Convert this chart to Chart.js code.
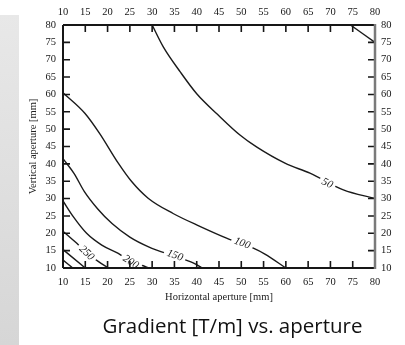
<!DOCTYPE html>
<html>
<head>
<meta charset="utf-8">
<script src="https://cdn.jsdelivr.net/npm/chart.js@4"></script>
<style>
  html, body { margin: 0; padding: 0; background: #fff; width: 405px; height: 345px; overflow: hidden; }
  #side { position: absolute; left: 0; top: 15px; width: 19px; height: 330px; background: linear-gradient(#e8e8e8, #d6d6d6); }
  #wrap { position: absolute; left: 0; top: 0; width: 405px; height: 345px; }
  #caption { position: absolute; left: 60px; width: 345px; top: 311px; line-height: 28px; text-align: center;
             font-family: "Open Sans", "Noto Sans", sans-serif; font-size: 20.5px; color: #111; white-space: nowrap; }
</style>
</head>
<body>
<div id="side"></div>
<div id="wrap"><canvas id="chart" width="405" height="345"></canvas></div>
<div id="caption">Gradient [T/m] vs. aperture</div>
<script>
(function () {
  "use strict";

  // -------------------------
  // Data
  // -------------------------
  const xTickVals = [10, 15, 20, 25, 30, 35, 40, 45, 50, 55, 60, 65, 70, 75, 80];
  const yTickVals = [10, 15, 20, 25, 30, 35, 40, 45, 50, 55, 60, 65, 70, 75, 80];

  // contour lines, horizontal aperture (x) vs vertical aperture (y), mm
  const c50X  = [30, 32.5, 36.3, 40, 44.7, 49.7, 53.5, 59.8, 65.4, 72.9, 80];
  const c50Y  = [80, 73.7, 66.5, 60.2, 54.2, 48.3, 44.8, 40.2, 37.3, 32.5, 30];
  const c100X = [10, 14.9, 18.2, 22.4, 25.4, 29.1, 34.7, 40.7, 46.7, 52.7, 55.3, 60];
  const c100Y = [60.5, 54.6, 48.8, 40.2, 34.9, 30.1, 25.7, 22.0, 18.6, 15.7, 14.0, 10];
  const c150X = [10, 12.5, 14.8, 17.8, 21, 25, 29.2, 35, 39.2, 41.2];
  const c150Y = [41.5, 37.2, 32, 27, 22.8, 18.9, 16.1, 13.4, 11.5, 10];
  const c200X = [10, 12.3, 15.3, 18.7, 22.4, 25.2, 27.7, 29.3];
  const c200Y = [29.3, 24.8, 20, 16.6, 14.2, 11.9, 10.8, 10];
  const c250X = [10, 13.1, 15.3, 17.9, 20.2];
  const c250Y = [20.6, 17.1, 14.4, 11.9, 10];
  const c300X = [10, 15];
  const c300Y = [15.3, 10];
  const c350X = [10, 12.2];
  const c350Y = [12.3, 10];
  const cCornerX = [74.5, 80];
  const cCornerY = [80, 75];

  // in-line contour labels
  const labelText  = ["50", "100", "150", "200", "250"];
  const labelX     = [69.3, 50.2, 35.1, 25.2, 15.3];
  const labelY     = [34.4, 17.1, 13.6, 11.7, 14.3];
  const labelCurve = [0, 1, 2, 3, 4];

  const curvesX = [c50X, c100X, c150X, c200X, c250X, c300X, c350X, cCornerX];
  const curvesY = [c50Y, c100Y, c150Y, c200Y, c250Y, c300Y, c350Y, cCornerY];

  // -------------------------
  // Helpers
  // -------------------------
  const SERIF = '"Liberation Serif", "Times New Roman", serif';
  const INK = "#161616";

  function toPoints(xs, ys) {
    return xs.map((x, i) => ({ x: x, y: ys[i] }));
  }

  function makeCurve(xs, ys) {
    return {
      data: toPoints(xs, ys),
      showLine: true,
      borderColor: "#1a1a1a",
      borderWidth: 1.4,
      pointRadius: 0,
      cubicInterpolationMode: "monotone",
      fill: false,
    };
  }

  function setTicks(vals) {
    return function (scale) {
      scale.ticks = vals.map((v) => ({ value: v }));
    };
  }

  function axis(pos, vals, size, pad, title) {
    const horiz = pos === "top" || pos === "bottom";
    return {
      type: "linear",
      position: pos,
      min: 10,
      max: 80,
      afterBuildTicks: setTicks(vals),
      afterFit: function (s) {
        if (horiz) s.height = size; else s.width = size;
      },
      grid: { display: false, drawTicks: false },
      border: { display: false },
      ticks: {
        padding: pad,
        color: INK,
        autoSkip: false,
        maxRotation: 0,
        font: { family: SERIF, size: 10.5 },
      },
      title: title
        ? { display: true, text: title.text, color: "#222", padding: title.padding, font: { family: SERIF, size: 10.5 } }
        : { display: false },
    };
  }

  // frame + inward tick marks
  const frameTicks = {
    id: "frameTicks",
    afterDraw(chart) {
      const { ctx, chartArea: a, scales } = chart;
      const len = 7;
      ctx.save();
      ctx.strokeStyle = INK;
      ctx.lineWidth = 1.6;
      ctx.beginPath();
      scales.x.ticks.forEach((t) => {
        const px = scales.x.getPixelForValue(t.value);
        ctx.moveTo(px, a.bottom); ctx.lineTo(px, a.bottom - len);
      });
      scales.x2.ticks.forEach((t) => {
        const px = scales.x2.getPixelForValue(t.value);
        ctx.moveTo(px, a.top); ctx.lineTo(px, a.top + len);
      });
      scales.y.ticks.forEach((t) => {
        const py = scales.y.getPixelForValue(t.value);
        ctx.moveTo(a.left, py); ctx.lineTo(a.left + len, py);
      });
      scales.y2.ticks.forEach((t) => {
        const py = scales.y2.getPixelForValue(t.value);
        ctx.moveTo(a.right, py); ctx.lineTo(a.right - len, py);
      });
      ctx.stroke();

      // frame
      ctx.lineWidth = 2;
      ctx.strokeStyle = INK;
      ctx.beginPath();
      ctx.moveTo(a.left, a.top); ctx.lineTo(a.right, a.top);
      ctx.moveTo(a.left, a.bottom); ctx.lineTo(a.right, a.bottom);
      ctx.moveTo(a.left, a.top); ctx.lineTo(a.left, a.bottom);
      ctx.stroke();
      ctx.lineWidth = 2.5;
      ctx.strokeStyle = "#7a7a7a";
      ctx.beginPath();
      ctx.moveTo(a.right, a.top - 1); ctx.lineTo(a.right, a.bottom + 1);
      ctx.stroke();
      ctx.restore();
    },
  };

  // italic labels set into the contour lines
  const contourLabels = {
    id: "contourLabels",
    afterDatasetsDraw(chart) {
      const { ctx } = chart;
      const xs = chart.scales.x, ys = chart.scales.y;
      labelText.forEach((txt, i) => {
        const cx = curvesX[labelCurve[i]], cy = curvesY[labelCurve[i]];
        let k = 0;
        while (k < cx.length - 2 && cx[k + 1] < labelX[i]) k++;
        const ang = Math.atan2(
          ys.getPixelForValue(cy[k + 1]) - ys.getPixelForValue(cy[k]),
          xs.getPixelForValue(cx[k + 1]) - xs.getPixelForValue(cx[k])
        );
        const px = xs.getPixelForValue(labelX[i]);
        const py = ys.getPixelForValue(labelY[i]);
        ctx.save();
        ctx.translate(px, py);
        ctx.rotate(ang);
        ctx.font = "italic 11px " + SERIF;
        const w = ctx.measureText(txt).width;
        ctx.fillStyle = "#fff";
        ctx.fillRect(-w / 2 - 3, -5, w + 6, 10);
        ctx.fillStyle = INK;
        ctx.textAlign = "center";
        ctx.textBaseline = "middle";
        ctx.fillText(txt, 0, 0);
        ctx.restore();
      });
    },
  };

  const el = document.getElementById("chart");
  const ctx = el.getContext("2d");

  new Chart(ctx, {
    type: "scatter",
    data: {
      datasets: curvesX.map((xs, i) => makeCurve(xs, curvesY[i])),
    },
    options: {
      responsive: false,
      animation: false,
      layout: { padding: { left: 20, right: 0, top: 0, bottom: 40 } },
      plugins: { legend: { display: false }, tooltip: { enabled: false } },
      scales: {
        x: axis("bottom", xTickVals, 37, 8, { text: "Horizontal aperture [mm]", padding: { top: 0, bottom: 1 } }),
        x2: axis("top", xTickVals, 25, 6, null),
        y: axis("left", yTickVals, 43, 7, { text: "Vertical aperture [mm]", padding: { top: 7, bottom: 0 } }),
        y2: axis("right", yTickVals, 30, 6, null),
      },
    },
    plugins: [contourLabels, frameTicks],
  });
})();
</script>
</body>
</html>
